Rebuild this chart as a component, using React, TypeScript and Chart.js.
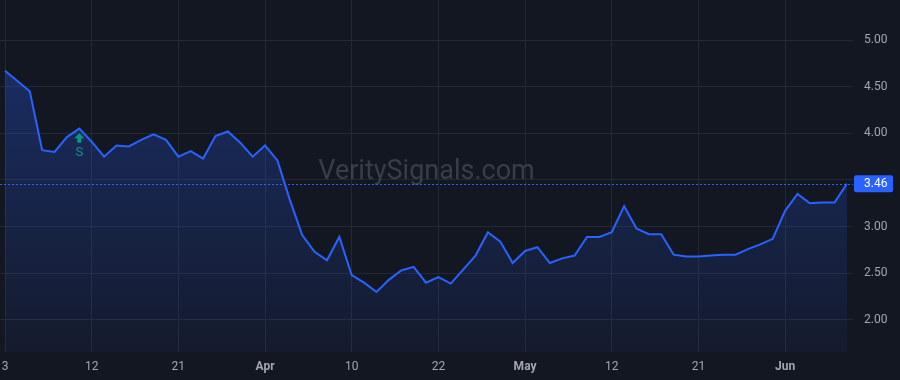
import React, { useEffect, useRef } from 'react';
import { Chart, registerables } from 'chart.js';

Chart.register(...registerables);

// Daily closes on trading days, Mar 3 2025 .. Jun 9 2025 (null = no print, line spans the gap)
const closeValues: (number | null)[] = [
  4.67, null, 4.45, 3.82, 3.8, 3.96, 4.05, 3.91, 3.75, 3.87,
  3.86, 3.93, 3.99, 3.93, 3.75, 3.81, 3.73, 3.97, 4.02, 3.9,
  3.75, 3.87, 3.71, 3.29, 2.91, 2.73, 2.64, 2.89, 2.48, 2.4,
  2.3, 2.43, 2.53, 2.57, 2.4, 2.46, 2.39, 2.54, 2.69, 2.94,
  2.84, 2.61, 2.74, 2.78, 2.61, 2.66, 2.69, 2.89, 2.89, 2.94,
  3.22, 2.98, 2.92, 2.92, 2.7, 2.68, 2.68, 2.69, 2.7, 2.7,
  2.76, 2.81, 2.87, 3.17, 3.35, 3.25, 3.26, 3.26, 3.46,
];

// x-axis tick positions (trading-day index) and their labels
const xTickIndex = [0, 7, 14, 21, 28, 35, 42, 49, 56, 63];
const xTickLabels = ['3', '12', '21', 'Apr', '10', '22', 'May', '12', '21', 'Jun'];
const monthLabels = ['Apr', 'May', 'Jun'];

// y-axis ticks
const yTicks = [2, 2.5, 3, 3.5, 4, 4.5, 5];
const yMin = 1.657;
const yMax = 5.4286;

// signal marker
const signalIndex = 6;
const signalLabel = 'S';

const watermarkText = 'VeritySignals.com';

const BG = '#131722';
const BLUE = '#2962ff';
const GRID = '#242833';
const TEXT = '#a3a6af';
const GREEN = '#089981';
const FONT = 'Roboto, "Liberation Sans", Arial, sans-serif';

const lastValue = closeValues[closeValues.length - 1] as number;

const zeroPad = (s: any) => {
  s.paddingTop = 0;
  s.paddingBottom = 0;
  s.paddingLeft = 0;
  s.paddingRight = 0;
};

const overlayPlugin = {
  id: 'overlay',
  beforeDraw(chart: any) {
    const { ctx, width, height } = chart;
    ctx.save();
    ctx.fillStyle = BG;
    ctx.fillRect(0, 0, width, height);
    ctx.restore();
  },
  beforeDatasetsDraw(chart: any) {
    const { ctx, chartArea } = chart;
    ctx.save();
    ctx.font = `27px ${FONT}`;
    ctx.fillStyle = 'rgba(120,123,134,0.38)';
    ctx.textAlign = 'center';
    ctx.textBaseline = 'middle';
    ctx.fillText(watermarkText, (chartArea.left + chartArea.right) / 2 + 3, (chartArea.top + chartArea.bottom) / 2 - 4);
    ctx.restore();
  },
  afterDatasetsDraw(chart: any) {
    const { ctx, chartArea, scales } = chart;
    const yScale = scales.y;
    const xScale = scales.x;
    // last price dashed line
    const py = Math.round(yScale.getPixelForValue(lastValue)) + 0.5;
    ctx.save();
    ctx.strokeStyle = BLUE;
    ctx.lineWidth = 1;
    ctx.setLineDash([2, 2]);
    ctx.beginPath();
    ctx.moveTo(chartArea.left, py);
    ctx.lineTo(chartArea.right + 6, py);
    ctx.stroke();
    ctx.restore();

    // signal marker (up arrow + S)
    const sv = closeValues[signalIndex] as number;
    const sx = xScale.getPixelForValue(signalIndex);
    const sy = yScale.getPixelForValue(sv);
    ctx.save();
    ctx.fillStyle = GREEN;
    const top = sy + 4.5;
    ctx.beginPath();
    ctx.moveTo(sx, top);
    ctx.lineTo(sx + 5, top + 5);
    ctx.lineTo(sx + 2, top + 5);
    ctx.lineTo(sx + 2, top + 9.5);
    ctx.lineTo(sx - 2, top + 9.5);
    ctx.lineTo(sx - 2, top + 5);
    ctx.lineTo(sx - 5, top + 5);
    ctx.closePath();
    ctx.fill();
    ctx.font = `13px ${FONT}`;
    ctx.textAlign = 'center';
    ctx.textBaseline = 'middle';
    ctx.fillText(signalLabel, sx, top + 20);
    ctx.restore();
  },
  afterDraw(chart: any) {
    const { ctx, chartArea, scales } = chart;
    const py = scales.y.getPixelForValue(lastValue);
    const x0 = chartArea.right + 7;
    const w = 39;
    const h = 17;
    ctx.save();
    ctx.fillStyle = BLUE;
    ctx.beginPath();
    if (ctx.roundRect) ctx.roundRect(x0, py - h / 2, w, h, 2);
    else ctx.rect(x0, py - h / 2, w, h);
    ctx.fill();
    ctx.fillStyle = '#ffffff';
    ctx.font = `12px ${FONT}`;
    ctx.textAlign = 'left';
    ctx.textBaseline = 'middle';
    ctx.fillText(lastValue.toFixed(2), chartArea.right + 17, py + 0.5);
    ctx.restore();
  },
};

export default function App() {
  const canvasRef = useRef<HTMLCanvasElement | null>(null);

  useEffect(() => {
    document.body.style.margin = '0';
    document.body.style.background = BG;
    const canvas = canvasRef.current;
    if (!canvas) return;

    const chart = new Chart(canvas, {
      type: 'line',
      data: {
        datasets: [
          {
            data: closeValues.map((v, i) => ({ x: i, y: v })) as any,
            borderColor: BLUE,
            borderWidth: 2,
            pointRadius: 0,
            tension: 0,
            spanGaps: true,
            fill: 'start',
            backgroundColor: (c: any) => {
              const ca = c.chart.chartArea;
              if (!ca) return 'rgba(41,98,255,0.15)';
              const g = c.chart.ctx.createLinearGradient(0, ca.top, 0, ca.bottom);
              g.addColorStop(0, 'rgba(41,98,255,0.34)');
              g.addColorStop(1, 'rgba(41,98,255,0.05)');
              return g;
            },
          },
        ],
      },
      options: {
        animation: false,
        responsive: true,
        maintainAspectRatio: false,
        layout: { padding: 0 },
        events: [],
        plugins: {
          legend: { display: false },
          tooltip: { enabled: false },
        },
        scales: {
          x: {
            type: 'linear',
            min: -0.404,
            max: closeValues.length - 1,
            position: 'bottom',
            border: { display: false },
            grid: { color: GRID, drawTicks: false, lineWidth: 1 },
            afterBuildTicks: (s: any) => {
              s.ticks = xTickIndex.map((v) => ({ value: v }));
            },
            afterFit: (s: any) => {
              s.height = 28;
              zeroPad(s);
            },
            ticks: {
              autoSkip: false,
              maxRotation: 0,
              padding: 8,
              color: TEXT,
              font: (c: any) => ({
                family: FONT,
                size: 12,
                weight: monthLabels.includes(xTickLabels[c.index]) ? 'bold' : 'normal',
              }),
              callback: (_v: any, i: number) => xTickLabels[i],
            },
          },
          y: {
            type: 'linear',
            position: 'right',
            min: yMin,
            max: yMax,
            border: { display: false },
            grid: { color: GRID, drawTicks: true, tickLength: 6, lineWidth: 1 },
            afterBuildTicks: (s: any) => {
              s.ticks = yTicks.map((v) => ({ value: v }));
            },
            afterFit: (s: any) => {
              s.width = 53;
              zeroPad(s);
            },
            ticks: {
              padding: 11,
              color: TEXT,
              font: { family: FONT, size: 12 },
              callback: (v: any) => (Math.abs(Number(v) - lastValue) < 0.12 ? '' : Number(v).toFixed(2)),
            },
          },
        },
      },
      plugins: [overlayPlugin],
    } as any);

    return () => chart.destroy();
  }, []);

  return (
    <div style={{ width: 900, height: 380, position: 'relative' }}>
      <canvas ref={canvasRef} />
    </div>
  );
}
